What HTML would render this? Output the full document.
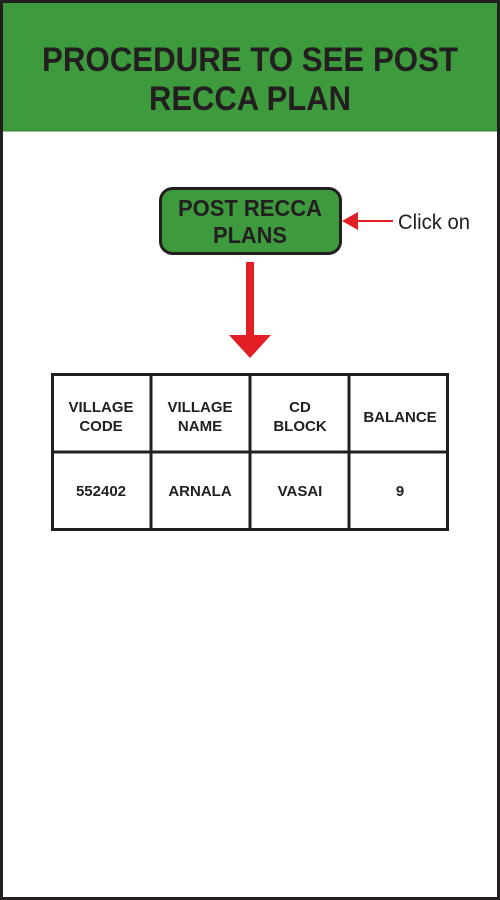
<!DOCTYPE html>
<html><head><meta charset="utf-8"><style>
html,body{margin:0;padding:0;background:#fff;}
svg{display:block;}
text{font-family:"Liberation Sans",Arial,sans-serif;font-weight:bold;fill:#231f20;}
</style></head><body>
<svg width="500" height="900" viewBox="0 0 500 900" xmlns="http://www.w3.org/2000/svg">
<rect x="0" y="0" width="500" height="900" fill="#fff"/>
<rect x="2" y="2" width="496" height="129" fill="#3d9b3d"/>
<line x1="2" y1="131" x2="498" y2="131" fill="none" stroke="#2f8a2f" stroke-width="1"/>
<rect x="1.5" y="1.5" width="497" height="897" fill="none" stroke="#231f20" stroke-width="3"/>
<text x="250" y="71" font-size="34" text-anchor="middle" textLength="416" lengthAdjust="spacingAndGlyphs">PROCEDURE TO SEE POST</text>
<text x="250" y="110" font-size="34" text-anchor="middle" textLength="202" lengthAdjust="spacingAndGlyphs">RECCA PLAN</text>

<rect x="160.5" y="188.5" width="180" height="65" rx="12" fill="#3d9b3d" stroke="#231f20" stroke-width="3"/>
<text x="250" y="216" font-size="23" text-anchor="middle" textLength="144" lengthAdjust="spacingAndGlyphs">POST RECCA</text>
<text x="250" y="243" font-size="23" text-anchor="middle" textLength="74" lengthAdjust="spacingAndGlyphs">PLANS</text>

<line x1="352" y1="221" x2="393" y2="221" stroke="#e31e24" stroke-width="2"/>
<polygon points="342,221 358,212 358,230" fill="#e31e24"/>
<text x="398" y="229" font-size="21" style="font-weight:normal" textLength="72" lengthAdjust="spacingAndGlyphs">Click on</text>

<rect x="246" y="262" width="8" height="74" fill="#e31e24"/>
<polygon points="229,335 271,335 250,358" fill="#e31e24"/>

<g stroke="#231f20" stroke-width="3" fill="none">
<rect x="52.5" y="374.5" width="395" height="155"/>
<line x1="52" y1="452" x2="448" y2="452"/>
<line x1="151" y1="374" x2="151" y2="530"/>
<line x1="250" y1="374" x2="250" y2="530"/>
<line x1="349" y1="374" x2="349" y2="530"/>
</g>
<g font-size="15" text-anchor="middle">
<text x="101" y="412">VILLAGE</text><text x="101" y="431">CODE</text>
<text x="200" y="412">VILLAGE</text><text x="200" y="431">NAME</text>
<text x="300" y="412">CD</text><text x="300" y="431">BLOCK</text>
<text x="400" y="422">BALANCE</text>
<text x="101" y="496">552402</text>
<text x="200" y="496">ARNALA</text>
<text x="300" y="496">VASAI</text>
<text x="400" y="496">9</text>
</g>
</svg>
</body></html>
